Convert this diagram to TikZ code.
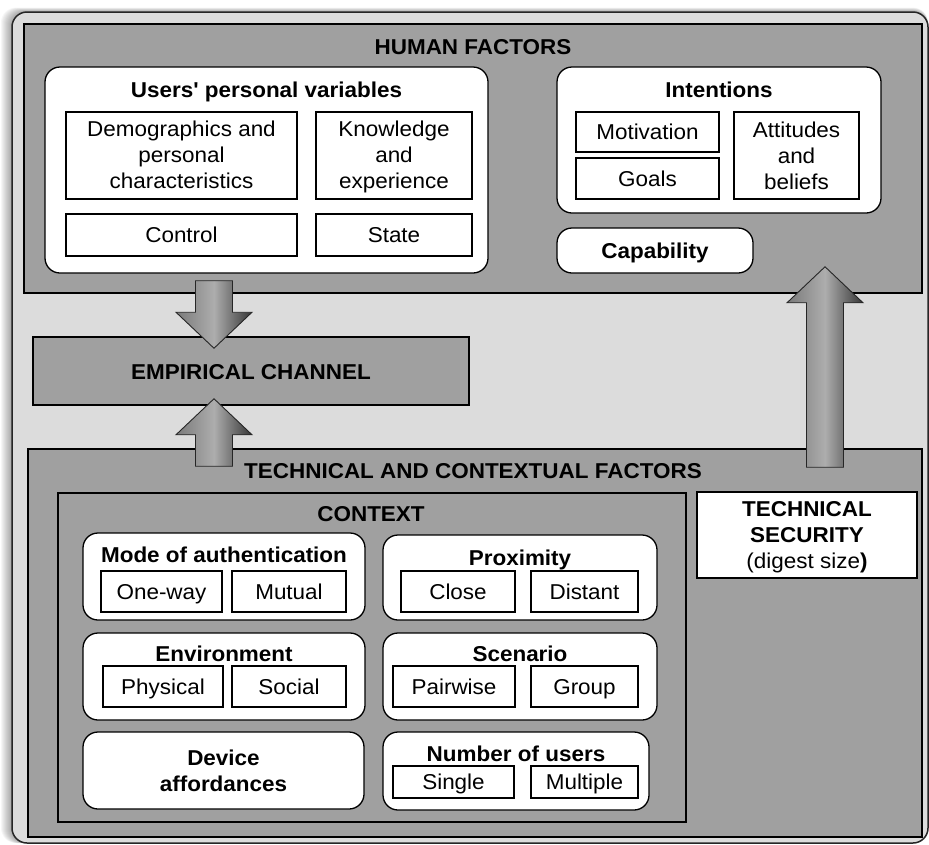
\documentclass[tikz,border=0pt]{standalone}
\usepackage{fontspec}
\setmainfont{Liberation Sans}[FakeStretch=1.045]
\newfontfamily\sqfam{Liberation Sans}[FakeStretch=1.045, Ligatures=ResetAll]
\usetikzlibrary{calc}
\definecolor{boxgray}{HTML}{A0A0A0}
\definecolor{bggray}{HTML}{DCDCDC}
\definecolor{arrL}{HTML}{7A7A7A}
\definecolor{arrM}{HTML}{ADADAD}
\definecolor{arrR}{HTML}{363636}
\newcommand\mlines[1]{\begin{tabular}[t]{@{}c@{}}#1\end{tabular}}
\newcommand\sq{{\sqfam\bfseries\char"27}}
\newcommand\fatarrow[2]{%
  \path[fatarrow] let \p1=(#1), \p2=(#2), \n1={sign(\y2-\y1)} in
    (\x1-18.5pt,\y1) -- (\x1-18.5pt,\y2-\n1*36pt) -- (\x1-38pt,\y2-\n1*36pt)
    -- (\x1,\y2) -- (\x1+38pt,\y2-\n1*36pt) -- (\x1+18.5pt,\y2-\n1*36pt)
    -- (\x1+18.5pt,\y1) -- cycle;}
\tikzset{
  every node/.style={font=\fontsize{21.5}{26}\selectfont},
  region/.style={draw=black, line width=1.5pt, fill=boxgray, inner sep=0pt},
  roundbox/.style={draw=black, line width=1.3pt, fill=white, rounded corners=15pt, inner sep=0pt},
  itembox/.style={draw=black, line width=1.2pt, fill=white, inner sep=0pt, text height=15.4pt, text depth=0pt},
  plainbox/.style={draw=black, line width=1.2pt, fill=white, inner sep=0pt},
  lbl/.style={anchor=base, inner sep=0pt},
  hdr/.style={lbl, font=\fontsize{21.5}{26}\selectfont\bfseries},
  fatarrow/.style={draw=black!85, line width=0.9pt, line join=miter, left color=arrL, right color=arrR, middle color=arrM},
}
\begin{document}
\begin{tikzpicture}[x=1pt,y=-1pt]
\useasboundingbox (0,0) rectangle (929,844);
% soft shadow of outer frame
\foreach \i in {1,...,11} {
  \fill[black, opacity=0.035, rounded corners=15pt] (12-\i,12-0.4*\i) rectangle (928,843);
}
\node[draw=black!85, line width=1.5pt, fill=bggray, rounded corners=15pt, inner sep=0pt,
      minimum width=916pt, minimum height=831pt] (outer) at (470,427.5) {};

% ---------------- HUMAN FACTORS ----------------
\node[region, minimum width=898pt, minimum height=269pt] (human) at (473,158.5) {};
\node[hdr] (humant) at (473,54) {HUMAN FACTORS};

\node[roundbox, minimum width=443pt, minimum height=206pt] (users) at (266.5,170) {};
\node[hdr] (userst) at (266.5,97) {Users\sq{} personal variables};
\node[plainbox, minimum width=231pt, minimum height=87pt] (demo) at (181.5,155.5) {};
\node[lbl] (demot) at (181.5,136) {\mlines{Demographics and\\personal\\characteristics}};
\node[plainbox, minimum width=156pt, minimum height=87pt] (know) at (394,155.5) {};
\node[lbl] (knowt) at (394,136) {\mlines{Knowledge\\and\\experience}};
\node[itembox, minimum width=231pt, minimum height=42pt] (control) at (181.5,235) {Control};
\node[itembox, minimum width=156pt, minimum height=42pt] (state) at (394,235) {State};

\node[roundbox, minimum width=324pt, minimum height=146pt] (intent) at (719,140) {};
\node[hdr] (intentt) at (719,97) {Intentions};
\node[itembox, minimum width=143pt, minimum height=40pt] (motiv) at (647.5,132) {Motivation};
\node[itembox, minimum width=143pt, minimum height=41pt] (goals) at (647.5,178.5) {Goals};
\node[plainbox, minimum width=125pt, minimum height=87pt] (attit) at (796.5,155.5) {};
\node[lbl] (attitt) at (796.5,137.5) {\mlines{Attitudes\\and\\beliefs}};

\node[roundbox, minimum width=196pt, minimum height=45pt, text height=15.4pt, text depth=0pt,
      font=\fontsize{21.5}{26}\selectfont\bfseries] (capab) at (655,250.5) {Capability};

% ---------------- EMPIRICAL CHANNEL ----------------
\node[region, minimum width=436pt, minimum height=68pt] (emp) at (251,371) {};
\node[hdr] (empt) at (251,379) {EMPIRICAL CHANNEL};

% ---------------- TECHNICAL AND CONTEXTUAL FACTORS ----------------
\node[region, minimum width=894pt, minimum height=388pt] (tech) at (475,643) {};
\node[hdr] (techt) at (473,478) {TECHNICAL AND CONTEXTUAL FACTORS};

\node[plainbox, minimum width=220pt, minimum height=86pt] (tsec) at (807,535) {};
\node[lbl] (tsect) at (807,516) {\mlines{\bfseries TECHNICAL\\\bfseries SECURITY\\(digest size\textbf{)}}};

\node[region, line width=1.4pt, minimum width=628pt, minimum height=329pt] (context) at (372,657.5) {};
\node[hdr] (contextt) at (371,521) {CONTEXT};

% left column
\node[roundbox, minimum width=282pt, minimum height=87pt] (mode) at (224,576.5) {};
\node[hdr] (modet) at (224,562) {Mode of authentication};
\node[itembox, minimum width=121pt, minimum height=41pt] (oneway) at (161.5,591.5) {One-way};
\node[itembox, minimum width=114pt, minimum height=41pt] (mutual) at (289,591.5) {Mutual};

\node[roundbox, minimum width=282pt, minimum height=87pt] (env) at (224,676.5) {};
\node[hdr] (envt) at (224,661) {Environment};
\node[itembox, minimum width=120pt, minimum height=41pt] (phys) at (163,686.5) {Physical};
\node[itembox, minimum width=114pt, minimum height=41pt] (social) at (289,686.5) {Social};

\node[roundbox, minimum width=281pt, minimum height=77pt] (device) at (223.5,770.5) {};
\node[hdr] (devicet) at (223.5,765) {\mlines{Device\\affordances}};

% right column
\node[roundbox, minimum width=274pt, minimum height=85pt] (prox) at (520,577.5) {};
\node[hdr] (proxt) at (520,565) {Proximity};
\node[itembox, minimum width=114pt, minimum height=41pt] (close) at (458,591.5) {Close};
\node[itembox, minimum width=107pt, minimum height=41pt] (distant) at (584.5,591.5) {Distant};

\node[roundbox, minimum width=274pt, minimum height=87pt] (scen) at (520,676.5) {};
\node[hdr] (scent) at (520,661) {Scenario};
\node[itembox, minimum width=122pt, minimum height=41pt] (pair) at (454,686.5) {Pairwise};
\node[itembox, minimum width=107pt, minimum height=41pt] (group) at (584.5,686.5) {Group};

\node[roundbox, minimum width=266pt, minimum height=78pt] (numu) at (516,771) {};
\node[hdr] (numut) at (516,761) {Number of users};
\node[itembox, minimum width=121pt, minimum height=32pt] (single) at (453.5,782) {Single};
\node[itembox, minimum width=107pt, minimum height=32pt] (multi) at (584.5,782) {Multiple};

% ---------------- block arrows ----------------
\coordinate (a1s) at ($(human.south)+(-259,-13)$);
\coordinate (a1e) at ($(emp.north)+(-37,12)$);
\coordinate (a2s) at ($(tech.north)+(-261,18)$);
\coordinate (a2e) at ($(emp.south)+(-37,-7)$);
\coordinate (a3s) at ($(tech.north)+(350,19)$);
\coordinate (a3e) at ($(human.south)+(352,-27)$);
\fatarrow{a1s}{a1e}
\fatarrow{a2s}{a2e}
\fatarrow{a3s}{a3e}
\end{tikzpicture}
\end{document}
